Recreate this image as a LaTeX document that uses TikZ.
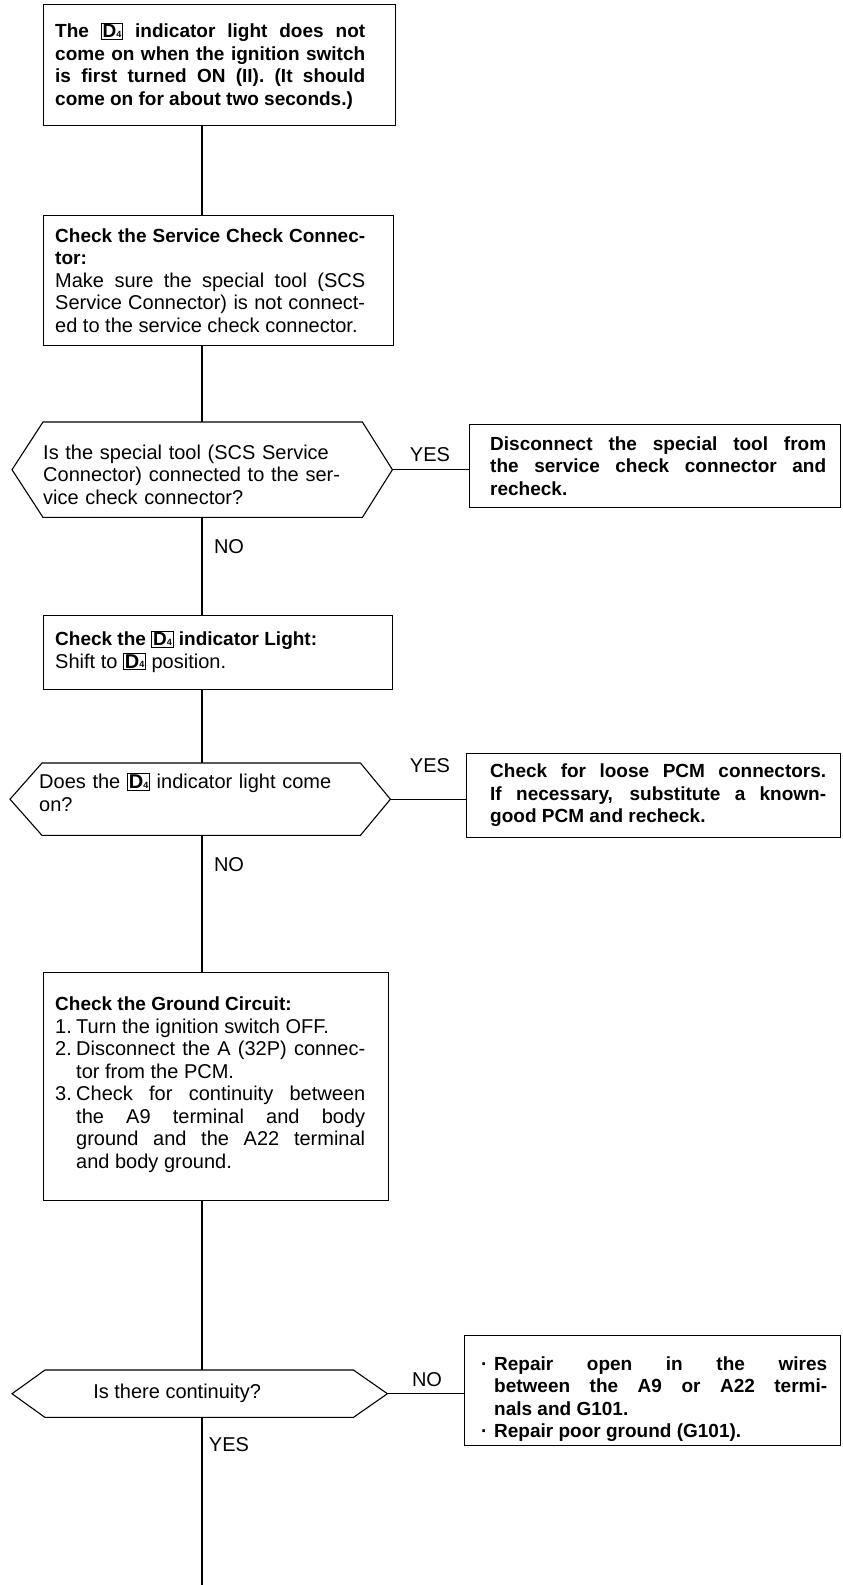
\documentclass[tikz,border=0pt]{standalone}
\usepackage{fontspec}
\setmainfont{Liberation Sans}
\usetikzlibrary{calc}
\newcommand\fs{\fontsize{20}{22.5}\selectfont\mdseries}
\newcommand\fb{\fontsize{19}{22.5}\selectfont\bfseries}
\newcommand\Dfour{{\setlength\fboxsep{1pt}\setlength\fboxrule{0.8pt}\fbox{\bfseries D\raisebox{0.5pt}{\fontsize{9}{9}\selectfont 4}}}}
\newcommand\nitem[3]{\par\hangindent=#1\hangafter=1\noindent\makebox[#1][l]{#2}#3\par}
\tikzset{
  boxs/.style={draw, line width=1.2pt, inner sep=0pt, anchor=north west},
  hexr/.style={inner sep=0pt, anchor=north west},
  txt/.style={inner sep=0pt, anchor=west, align=justify},
  lbl/.style={inner sep=0pt, font=\fs},
  con/.style={line width=1.1pt},
}
\tolerance=9999
\hbadness=10000
\hyphenpenalty=10000
\begin{document}
\begin{tikzpicture}[x=1pt,y=-1pt]
\useasboundingbox (0,0) rectangle (843,1585);
\coordinate (sp) at (202,0);
\coordinate (endp) at (199,1585);

% boxes
\node[boxs, minimum width=352, minimum height=121] (b1) at (43,4) {};
\node[txt, font=\fb, text width=310pt] (t1) at ($(b1.west)+(12,1)$) {The \Dfour\ indicator light does not\linebreak come on when the ignition switch\linebreak is first turned ON (II). (It should\linebreak come on for about two seconds.)\par};

\node[boxs, minimum width=350, minimum height=130] (b2) at (43,215) {};
\node[txt, font=\fs, text width=310pt] (t2) at ($(b2.west)+(12,0)$) {{\fb Check the Service Check Connec-\linebreak tor:\par}\fs Make sure the special tool (SCS\linebreak Service Connector) is not connect-\linebreak ed to the service check connector.\par};

% hexagon 1
\node[hexr, minimum width=319, minimum height=95] (h1) at (43,422) {};
\coordinate (h1w) at ($(h1.west)+(-31,0)$);
\coordinate (h1e) at ($(h1.east)+(30,0)$);
\draw[con] (h1.north west) -- (h1.north east) -- (h1e) -- (h1.south east) -- (h1.south west) -- (h1w) -- cycle;
\node[txt, font=\fs, text width=318pt, align=left] (h1t) at ($(h1.west)+(0,5)$) {Is the special tool (SCS Service\\Connector) connected to the ser-\\vice check connector?};

\node[boxs, minimum width=371, minimum height=83] (b3) at (469,424) {};
\node[txt, font=\fb, text width=336pt] (t3) at ($(b3.west)+(21,0)$) {Disconnect the special tool from\linebreak the service check connector and\linebreak recheck.\par};

\node[boxs, minimum width=349, minimum height=74] (b4) at (43,615) {};
\node[txt, font=\fs, text width=310pt] (t4) at ($(b4.west)+(12,-1)$) {{\fb Check the \Dfour\ indicator Light:\par}\fs Shift to \Dfour\ position.\par};

% hexagon 2
\node[hexr, minimum width=318, minimum height=72] (h2) at (42,763) {};
\coordinate (h2w) at ($(h2.west)+(-32,0)$);
\coordinate (h2e) at ($(h2.east)+(30,0)$);
\draw[con] (h2.north west) -- (h2.north east) -- (h2e) -- (h2.south east) -- (h2.south west) -- (h2w) -- cycle;
\node[txt, font=\fs, text width=318pt, align=left] (h2t) at ($(h2.west)+(-3,-7)$) {Does the \Dfour\ indicator light come\\on?};

\node[boxs, minimum width=374, minimum height=84] (b5) at (466,753) {};
\node[txt, font=\fb, text width=336pt] (t5) at ($(b5.west)+(24,0)$) {Check for loose PCM connectors.\linebreak If necessary, substitute a known-\linebreak good PCM and recheck.\par};

\node[boxs, minimum width=345, minimum height=228] (b6) at (43,972) {};
\node[txt, font=\fs, text width=310pt] (t6) at ($(b6.west)+(12,-2)$) {{\fb Check the Ground Circuit:\par}\fs
\nitem{21pt}{1.}{Turn the ignition switch OFF.}%
\nitem{21pt}{2.}{Disconnect the A (32P) connec-\linebreak tor from the PCM.}%
\nitem{21pt}{3.}{Check for continuity between\linebreak the A9 terminal and body\linebreak ground and the A22 terminal\linebreak and body ground.}};

% hexagon 3
\node[hexr, minimum width=308, minimum height=47] (h3) at (45,1370) {};
\coordinate (h3w) at ($(h3.west)+(-33,0)$);
\coordinate (h3e) at ($(h3.east)+(34,0)$);
\draw[con] (h3.north west) -- (h3.north east) -- (h3e) -- (h3.south east) -- (h3.south west) -- (h3w) -- cycle;
\node[inner sep=0pt, font=\fs] (h3t) at ($(h3.center)+(-22,0)$) {Is there continuity?};

\node[boxs, minimum width=376, minimum height=110] (b7) at (464,1335) {};
\node[txt, font=\fb, text width=346pt] (t7) at ($(b7.west)+(17,4)$) {%
\nitem{13pt}{·}{Repair open in the wires\linebreak between the A9 or A22 termi-\linebreak nals and G101.}%
\nitem{13pt}{·}{Repair poor ground (G101).}};

% connectors
\draw[con] (b1.south -| sp) -- (b2.north -| sp);
\draw[con] (b2.south -| sp) -- (h1.north -| sp);
\draw[con] (h1.south -| sp) -- (b4.north -| sp);
\draw[con] (b4.south -| sp) -- (h2.north -| sp);
\draw[con] (h2.south -| sp) -- (b6.north -| sp);
\draw[con] (b6.south -| sp) -- (h3.north -| sp);
\draw[con] (h3.south -| sp) -- (endp -| sp);
\draw[con] (h1e) -- (h1e -| b3.west);
\draw[con] (h2e) -- (h2e -| b5.west);
\draw[con] (h3e) -- (h3e -| b7.west);

% labels
\node[lbl] (y1) at (430,455) {YES};
\node[lbl] (n1) at (229,547) {NO};
\node[lbl] (y2) at (430,766) {YES};
\node[lbl] (n2) at (229,865) {NO};
\node[lbl] (n3) at (427,1380) {NO};
\node[lbl] (y3) at (229,1445) {YES};
\end{tikzpicture}
\end{document}
